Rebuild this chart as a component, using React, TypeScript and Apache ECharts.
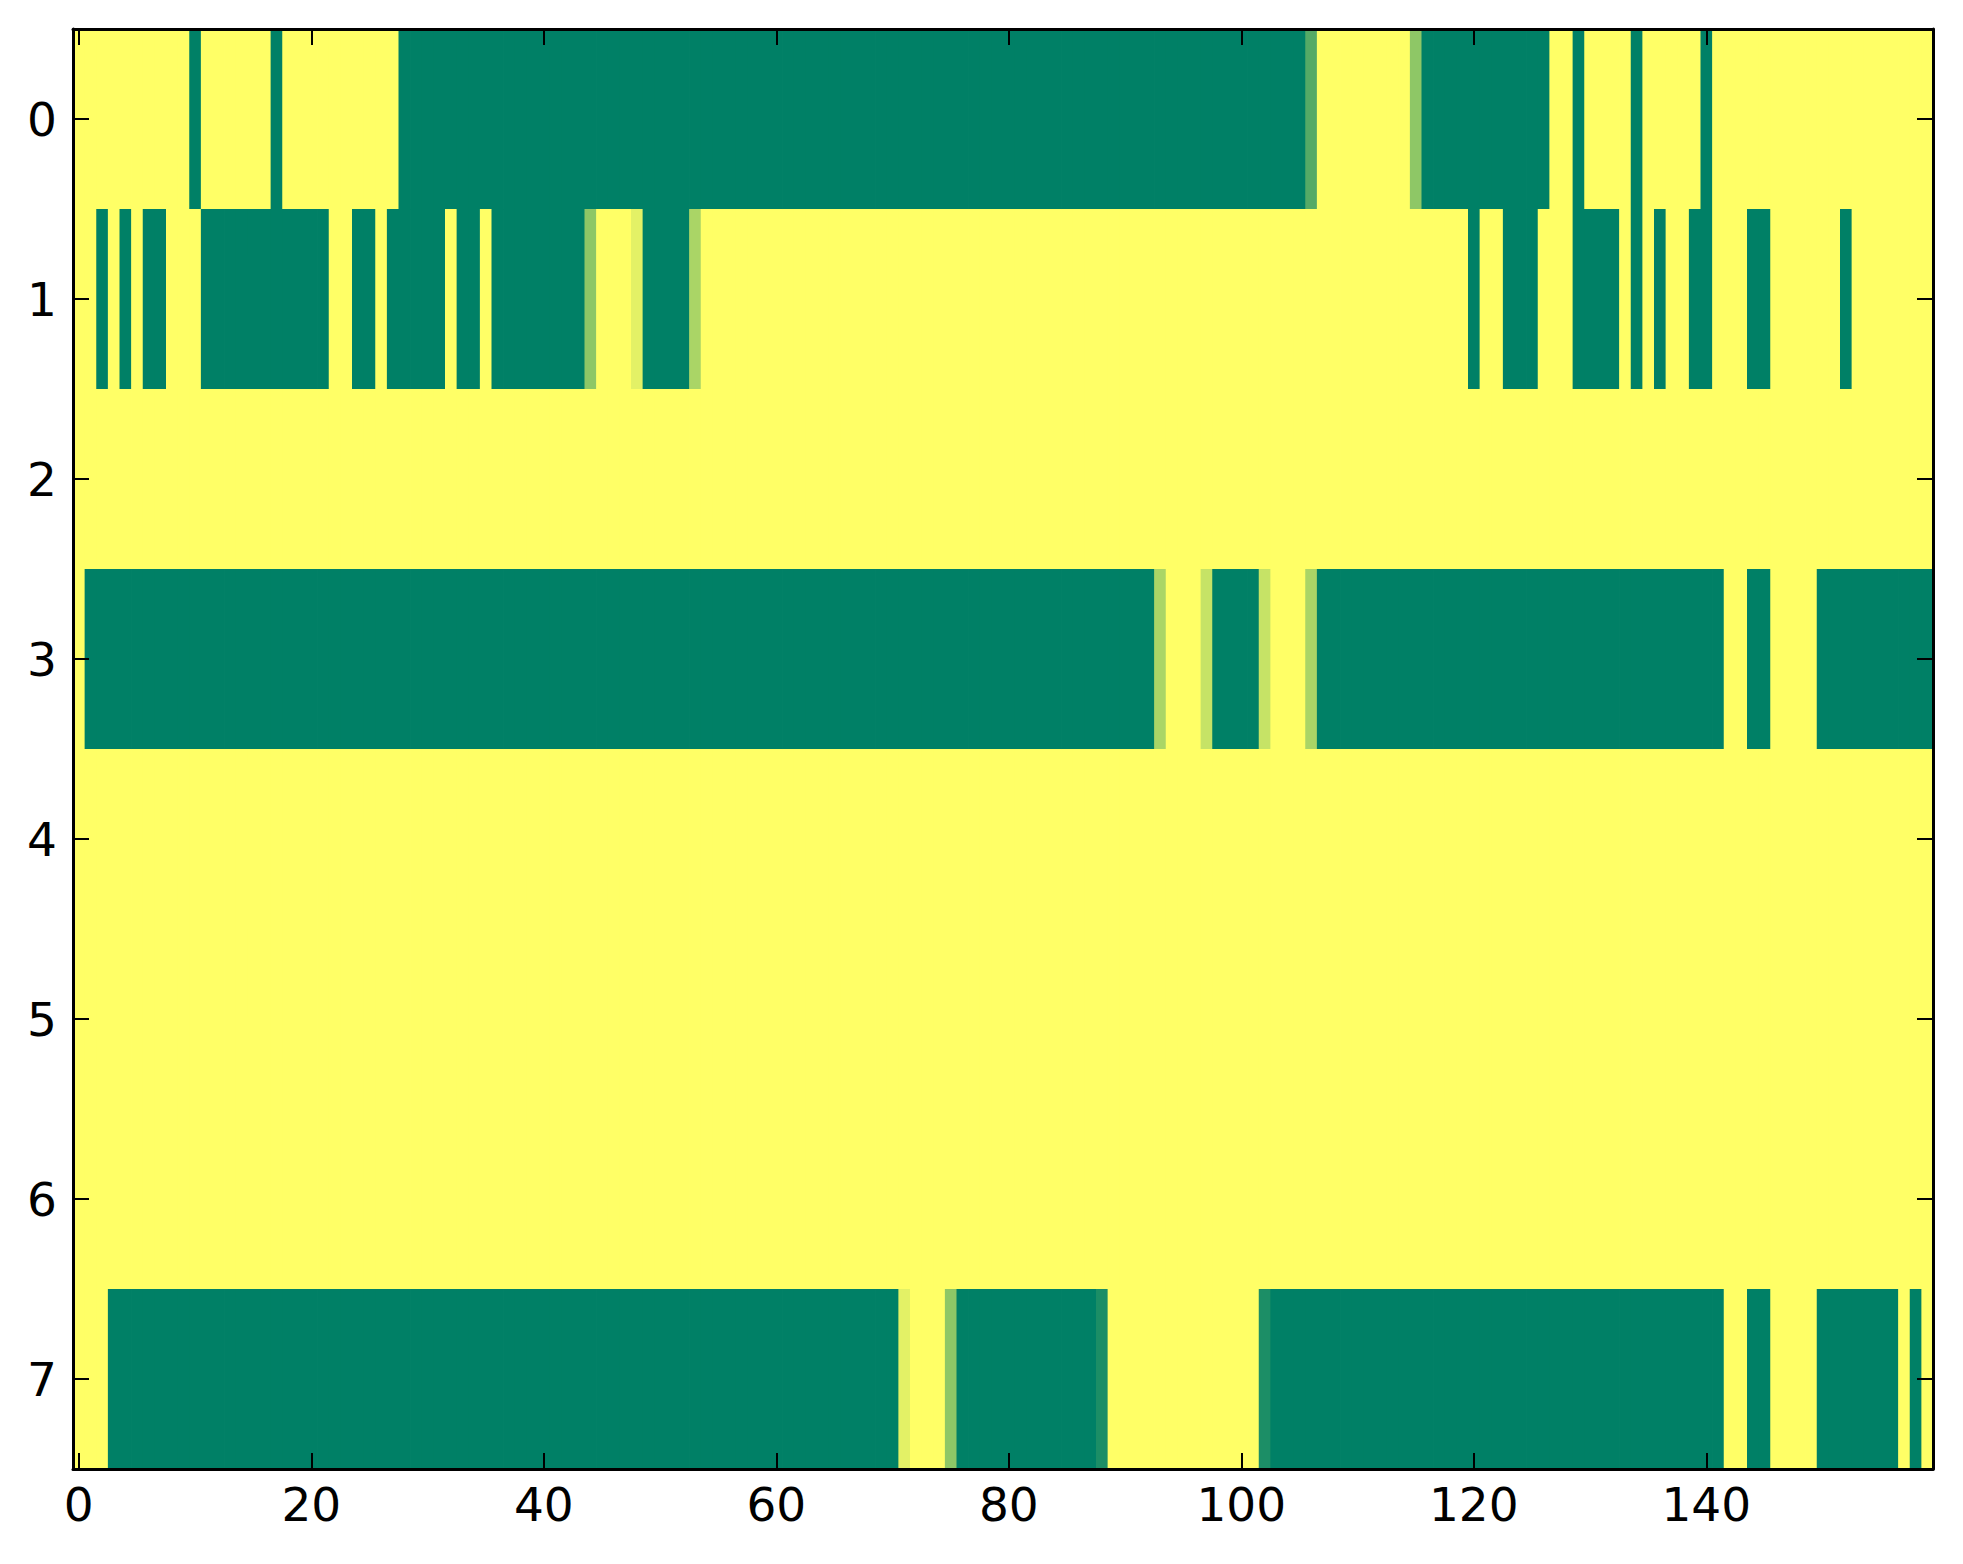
import React, { useEffect, useRef } from "react";
import * as echarts from "echarts";

// Each row: one character per column (0..159); digit d means value d/9
// (0 = green, 9 = yellow, in-between digits are intermediate shades).
const row0 = ["9999999999", "0999999099", "9999999900", "0000000000", "0000000000", "0000000000", "0000000000", "0000000000", "0000000000", "0000000000", "0000003999", "9999950000", "0000000990", "9999099999", "0999999999", "9999999999"];
const row1 = ["9909090099", "9000000000", "0099009000", "0090090000", "0000599980", "0006999999", "9999999999", "9999999999", "9999999999", "9999999999", "9999999999", "9999999999", "0990009990", "0009090990", "0999009999", "9909999999"];
const row2 = ["9999999999", "9999999999", "9999999999", "9999999999", "9999999999", "9999999999", "9999999999", "9999999999", "9999999999", "9999999999", "9999999999", "9999999999", "9999999999", "9999999999", "9999999999", "9999999999"];
const row3 = ["9000000000", "0000000000", "0000000000", "0000000000", "0000000000", "0000000000", "0000000000", "0000000000", "0000000000", "0006999700", "0079996000", "0000000000", "0000000000", "0000000000", "0099009999", "0000000000"];
const row4 = ["9999999999", "9999999999", "9999999999", "9999999999", "9999999999", "9999999999", "9999999999", "9999999999", "9999999999", "9999999999", "9999999999", "9999999999", "9999999999", "9999999999", "9999999999", "9999999999"];
const row5 = ["9999999999", "9999999999", "9999999999", "9999999999", "9999999999", "9999999999", "9999999999", "9999999999", "9999999999", "9999999999", "9999999999", "9999999999", "9999999999", "9999999999", "9999999999", "9999999999"];
const row6 = ["9999999999", "9999999999", "9999999999", "9999999999", "9999999999", "9999999999", "9999999999", "9999999999", "9999999999", "9999999999", "9999999999", "9999999999", "9999999999", "9999999999", "9999999999", "9999999999"];
const row7 = ["9990000000", "0000000000", "0000000000", "0000000000", "0000000000", "0000000000", "0000000000", "0899950000", "0000000019", "9999999999", "9910000000", "0000000000", "0000000000", "0000000000", "0099009999", "0000000909"];

const rows = [row0, row1, row2, row3, row4, row5, row6, row7];
const yCategories = ["0", "1", "2", "3", "4", "5", "6", "7"];
const xTickLabels = ["0", "20", "40", "60", "80", "100", "120", "140"];
const COLS = 160;
const xCategories = Array.from({ length: COLS }, (_, i) => String(i));

const colorLow = "#008066";
const colorHigh = "#ffff66";

function buildData() {
  const out: [number, number, number][] = [];
  rows.forEach((chunks, r) => {
    const s = chunks.join("");
    for (let c = 0; c < s.length; c++) {
      out.push([c, r, Number(s[c]) / 9]);
    }
  });
  return out;
}

const FONT = "DejaVu Sans";

export default function App() {
  const ref = useRef<HTMLDivElement>(null);
  useEffect(() => {
    if (!ref.current) return;
    const chart = echarts.init(ref.current, undefined, { renderer: "svg" });
    const axisLine = { show: true, lineStyle: { color: "#000", width: 3 } };
    const tickStyle = { color: "#000", width: 2 };
    chart.setOption({
      animation: false,
      backgroundColor: "#ffffff",
      grid: { left: 73, top: 29, width: 1860, height: 1440, containLabel: false },
      visualMap: {
        show: false,
        type: "continuous",
        min: 0,
        max: 1,
        dimension: 2,
        seriesIndex: 0,
        inRange: { color: [colorLow, colorHigh] },
      },
      xAxis: [
        {
          type: "category",
          data: xCategories,
          position: "bottom",
          z: 10,
          axisLine,
          axisTick: { show: true, alignWithLabel: true, interval: 19, inside: true, length: 16, lineStyle: tickStyle },
          axisLabel: {
            interval: 19,
            color: "#000",
            fontFamily: FONT,
            fontSize: 47,
            margin: 12,
            formatter: (v: string) => (xTickLabels.includes(v) ? v : ""),
          },
          splitLine: { show: false },
        },
        {
          type: "category",
          data: xCategories,
          position: "top",
          z: 10,
          axisLine,
          axisTick: { show: true, alignWithLabel: true, interval: 19, inside: true, length: 16, lineStyle: tickStyle },
          axisLabel: { show: false },
          splitLine: { show: false },
        },
      ],
      yAxis: [
        {
          type: "category",
          data: yCategories,
          inverse: true,
          position: "left",
          z: 10,
          axisLine,
          axisTick: { show: true, alignWithLabel: true, inside: true, length: 16, lineStyle: tickStyle },
          axisLabel: { color: "#000", fontFamily: FONT, fontSize: 47, margin: 16 },
          splitLine: { show: false },
        },
        {
          type: "category",
          data: yCategories,
          inverse: true,
          position: "right",
          z: 10,
          axisLine,
          axisTick: { show: true, alignWithLabel: true, inside: true, length: 16, lineStyle: tickStyle },
          axisLabel: { show: false },
          splitLine: { show: false },
        },
      ],
      series: [
        {
          type: "custom",
          xAxisIndex: 0,
          yAxisIndex: 0,
          encode: { x: 0, y: 1 },
          data: buildData(),
          silent: true,
          renderItem: (params: any, api: any) => {
            const p = api.coord([api.value(0), api.value(1)]);
            const size = api.size([1, 1]);
            return {
              type: "rect",
              shape: {
                x: p[0] - size[0] / 2,
                y: p[1] - size[1] / 2,
                width: size[0] + 0.8,
                height: size[1] + 0.8,
              },
              style: { fill: api.visual("color"), stroke: null },
            };
          },
        },
      ],
    });
    return () => chart.dispose();
  }, []);
  return (
    <div
      ref={ref}
      style={{ position: "absolute", left: 0, top: 0, width: 1963, height: 1564, background: "#fff" }}
    />
  );
}
